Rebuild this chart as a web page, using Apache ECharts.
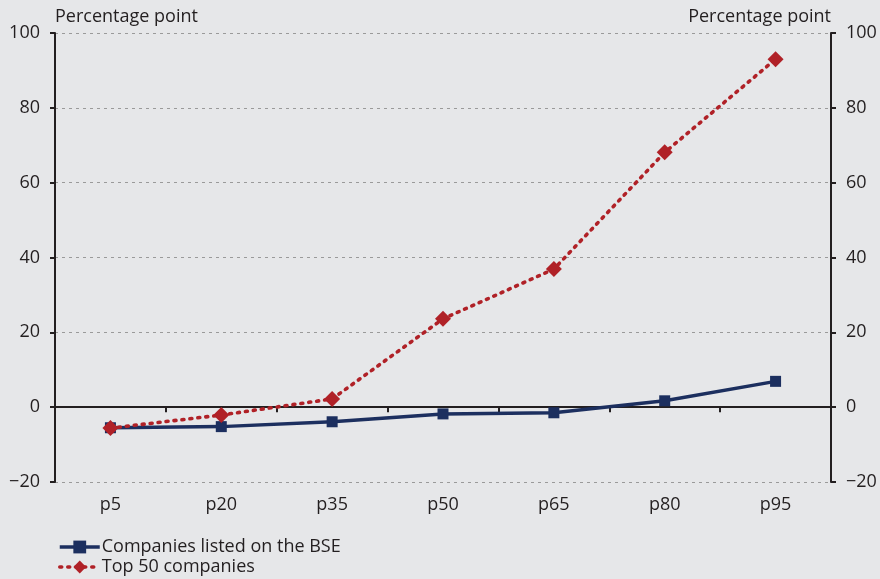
<!DOCTYPE html>
<html>
<head>
<meta charset="utf-8">
<script src="https://cdn.jsdelivr.net/npm/echarts@6/dist/echarts.min.js"></script>
<style>
  html, body { margin: 0; padding: 0; background: #e6e7e9; }
  #chart { width: 880px; height: 579px; }
</style>
</head>
<body>
<div id="chart"></div>
<script>
// Percentile categories
const categories = ['p5', 'p20', 'p35', 'p50', 'p65', 'p80', 'p95'];
// Percentage-point values per percentile
const bseCompanies = [-5.5, -5.2, -3.9, -1.8, -1.5, 1.7, 6.9];
const top50Companies = [-5.6, -2.1, 2.2, 23.6, 36.9, 68.1, 93.0];
const seriesNames = ['Companies listed on the BSE', 'Top 50 companies'];
const axisTitle = 'Percentage point';

const FONT = '"Open Sans", Lato, sans-serif';
const FS = 18;
const TEXT = '#231f20';
const NAVY = '#1c2f5f';
const RED = '#b02127';

function valueAxis(position) {
  const left = position === 'left';
  return {
    type: 'value',
    position: position,
    min: -20, max: 100, interval: 20,
    name: axisTitle,
    nameLocation: 'end',
    nameGap: 7,
    nameTextStyle: {
      color: TEXT, fontFamily: FONT, fontSize: FS,
      align: left ? 'left' : 'right'
    },
    axisLine: { show: true, onZero: false, lineStyle: { color: TEXT, width: 2 } },
    axisTick: { show: true, inside: false, length: 5, lineStyle: { color: TEXT, width: 2 } },
    axisLabel: {
      color: TEXT, fontFamily: FONT, fontSize: FS, margin: 15,
      formatter: v => (v < 0 ? '\u2212' + Math.abs(v) : String(v))
    },
    splitLine: left ? { show: true, lineStyle: { color: '#9a9a9a', type: [3, 4], width: 1 } } : { show: false }
  };
}

const chart = echarts.init(document.getElementById('chart'), null, { renderer: 'canvas' });
chart.setOption({
  backgroundColor: '#e6e7e9',
  animation: false,
  grid: { left: 55, right: 49, top: 33, bottom: 97, containLabel: false },
  legend: {
    orient: 'vertical',
    left: 53, bottom: -2,
    itemWidth: 40, itemHeight: 16, itemGap: 2,
    lineStyle: { width: 3.5 },
    textStyle: { color: TEXT, fontFamily: FONT, fontSize: FS, padding: [0, 0, 0, -3] },
    data: seriesNames
  },
  xAxis: [
    {
      // category labels along the bottom edge
      type: 'category', data: categories, position: 'bottom', boundaryGap: true,
      axisLine: { show: false, onZero: false },
      axisTick: { show: false },
      axisLabel: { color: TEXT, fontFamily: FONT, fontSize: FS, margin: 14 }
    },
    {
      // zero line with category separators
      type: 'category', data: categories, position: 'bottom', boundaryGap: true,
      axisLine: { show: true, onZero: true, lineStyle: { color: TEXT, width: 2 } },
      axisTick: { show: true, length: 5, lineStyle: { color: TEXT, width: 2 } },
      axisLabel: { show: false }
    }
  ],
  yAxis: [valueAxis('left'), valueAxis('right')],
  series: [
    {
      name: seriesNames[0], type: 'line', data: bseCompanies,
      xAxisIndex: 0, yAxisIndex: 0,
      symbol: 'rect', symbolSize: 11,
      lineStyle: { color: NAVY, width: 3.5 },
      itemStyle: { color: NAVY },
      z: 3
    },
    {
      name: seriesNames[1], type: 'line', data: top50Companies,
      xAxisIndex: 0, yAxisIndex: 0,
      symbol: 'diamond', symbolSize: 16,
      lineStyle: { color: RED, width: 3.6, type: [2, 6], cap: 'round' },
      itemStyle: { color: RED },
      z: 4
    }
  ]
});
</script>
</body>
</html>
